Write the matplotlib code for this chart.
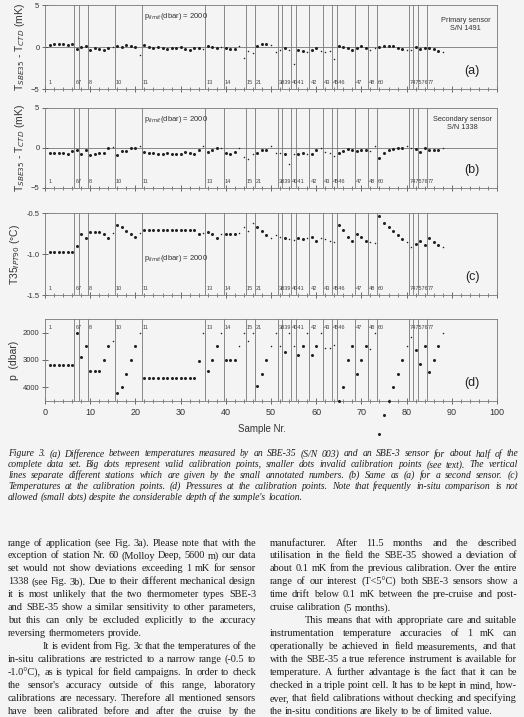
import numpy as np
import matplotlib
matplotlib.use("Agg")
import matplotlib.pyplot as plt

# sample numbers 1..88
sample = np.arange(1, 89)

# valid (big dots) / invalid (small dots) calibration points
invalid = [15, 21, 35, 39, 43, 44, 45, 46, 50, 51, 52, 54, 55, 58, 61, 62, 63, 64,
           72, 73, 80, 81, 88]

# (a) T_SBE35 - T_CTD, primary sensor S/N 1491 (mK)
dT_primary = [0.2, 0.3, 0.3, 0.3, 0.2, 0.4, -0.2, 0.0, 0.1, -0.3,
              -0.1, -0.2, -0.3, -0.1, 0.0, 0.1, 0.0, 0.2, 0.1, 0.0,
              -1.0, 0.2, 0.0, -0.1, 0.0, -0.1, -0.2, -0.1, -0.1, 0.0,
              -0.2, -0.3, -0.1, -0.1, -0.2, 0.1, 0.0, -0.1, 0.0, -0.1,
              -0.2, -0.2, 0.1, -1.3, -0.5, -0.7, 0.1, 0.3, 0.3, 0.2,
              -0.6, -0.3, -0.1, -0.3, -2.0, -0.4, -0.5, -0.6, -0.4, -0.1,
              -0.5, -0.6, -0.5, -1.4, 0.1, 0.0, -0.1, -0.3, -0.1, 0.1,
              -0.1, -0.4, -0.1, 0.0, 0.1, 0.1, 0.1, -0.1, -0.2, -0.4,
              -0.4, 0.0, -0.2, -0.1, -0.1, -0.2, -0.5, -0.6]

# (b) secondary sensor S/N 1338 (mK)
dT_secondary = [-0.6, -0.6, -0.6, -0.6, -0.7, -0.4, -0.3, -0.8, -0.2, -0.9,
                -0.7, -0.6, -0.6, 0.0, 0.1, -0.9, -0.4, -0.4, 0.0, 0.0,
                0.3, -0.5, -0.6, -0.6, -0.7, -0.7, -0.6, -0.7, -0.8, -0.7,
                -0.5, -0.6, -0.8, -0.2, 0.2, -0.5, -0.3, 0.0, 0.0, -0.6,
                -0.7, -0.5, 0.0, -1.1, -1.4, -0.7, -0.6, -0.3, -0.2, 0.2,
                -0.6, -0.6, -0.7, -2.0, -0.7, -0.8, -0.6, -0.7, -0.8, -0.2,
                0.0, -0.5, -0.6, -1.0, -0.6, -0.4, -0.1, -0.2, -0.4, -0.2,
                -0.2, -0.4, 0.3, -1.2, -0.6, -0.3, -0.1, 0.0, 0.0, 0.2,
                0.0, -0.1, -0.5, 0.0, -0.2, -0.2, -0.3, 0.0]

# (c) temperature at calibration points (degC)
temp = [-0.97, -0.97, -0.97, -0.97, -0.97, -0.97, -0.90, -0.76, -0.80, -0.73,
        -0.73, -0.73, -0.76, -0.80, -0.74, -0.65, -0.67, -0.72, -0.76, -0.79,
        -0.74, -0.71, -0.71, -0.71, -0.71, -0.71, -0.71, -0.71, -0.71, -0.71,
        -0.71, -0.71, -0.71, -0.76, -0.74, -0.73, -0.76, -0.80, -0.76, -0.76,
        -0.76, -0.76, -0.74, -0.67, -0.72, -0.62, -0.67, -0.72, -0.77, -0.81,
        -0.77, -0.79, -0.80, -0.82, -0.83, -0.80, -0.82, -0.80, -0.79, -0.84,
        -0.81, -0.82, -0.84, -0.85, -0.65, -0.71, -0.79, -0.84, -0.76, -0.79,
        -0.84, -0.85, -0.86, -0.54, -0.62, -0.67, -0.72, -0.77, -0.82, -0.85,
        -0.91, -0.88, -0.84, -0.89, -0.81, -0.85, -0.89, -0.91]

# (d) pressure at calibration points (dbar)
pres = [3200, 3200, 3200, 3200, 3200, 3200, 2000, 2900, 2500, 3400,
        3400, 3400, 3000, 2500, 2300, 4200, 4000, 3500, 3000, 2500,
        2000, 3650, 3650, 3650, 3650, 3650, 3650, 3650, 3650, 3650,
        3650, 3650, 3650, 3050, 2000, 3400, 3000, 2500, 2000, 3000,
        3000, 3000, 2500, 2000, 2300, 2000, 3950, 3500, 3000, 2500,
        2000, 2500, 2700, 2000, 2500, 2800, 2500, 2000, 2800, 2500,
        2000, 2550, 2550, 2450, 4500, 4000, 3000, 2500, 3500, 3000,
        2500, 2600, 2000, 5700, 5000, 4500, 4000, 3500, 3000, 2500,
        2150, 2650, 3150, 2500, 3450, 3000, 2500, 2000]

# station separators and station numbers
station_lines = [6.5, 7.5, 9.5, 15.5, 21.5, 35.5, 39.5, 44.5, 46.5, 51.5, 52.5,
                 54.5, 55.5, 58.5, 61.5, 63.5, 64.5, 68.5, 71.5, 73.5, 80.5,
                 81.5, 82.5, 84.5]
station_pos = [0.5] + station_lines
station_nr = ['1', '6', '7', '8', '10', '11', '13', '14', '15', '21', '38', '39',
              '40', '41', '42', '43', '45', '46', '47', '48', '60', '74', '75',
              '76', '77']

caption = [
    "Figure 3. (a) Difference between temperatures measured by an SBE-35 (S/N 003) and an SBE-3 sensor for about half of the",
    "complete data set. Big dots represent valid calibration points, smaller dots invalid calibration points (see text). The vertical",
    "lines separate different stations which are given by the small annotated numbers. (b) Same as (a) for a second sensor. (c)",
    "Temperatures at the calibration points. (d) Pressures at the calibration points. Note that frequently in-situ comparison is not",
    "allowed (small dots) despite the considerable depth of the sample's location.",
]
left_col = [
    "range of application (see Fig. 3a). Please note that with the",
    "exception of station Nr. 60 (Molloy Deep, 5600 m) our data",
    "set would not show deviations exceeding 1 mK for sensor",
    "1338 (see Fig. 3b). Due to their different mechanical design",
    "it is most unlikely that the two thermometer types SBE-3",
    "and SBE-35 show a similar sensitivity to other parameters,",
    "but this can only be excluded explicitly to the accuracy",
    "reversing thermometers provide.",
    "\tIt is evident from Fig. 3c that the temperatures of the",
    "in-situ calibrations are restricted to a narrow range (-0.5 to",
    "-1.0°C), as is typical for field campaigns. In order to check",
    "the sensor's accuracy outside of this range, laboratory",
    "calibrations are necessary. Therefore all mentioned sensors",
    "have been calibrated before and after the cruise by the",
]
right_col = [
    "manufacturer. After 11.5 months and the described",
    "utilisation in the field the SBE-35 showed a deviation of",
    "about 0.1 mK from the previous calibration. Over the entire",
    "range of our interest (T<5°C) both SBE-3 sensors show a",
    "time drift below 0.1 mK between the pre-cruise and post-",
    "cruise calibration (5 months).",
    "\tThis means that with appropriate care and suitable",
    "instrumentation temperature accuracies of 1 mK can",
    "operationally be achieved in field measurements, and that",
    "with the SBE-35 a true reference instrument is available for",
    "temperature. A further advantage is the fact that it can be",
    "checked in a triple point cell. It has to be kept in mind, how-",
    "ever, that field calibrations without checking and specifying",
    "the in-situ conditions are likely to be of limited value.",
]

W, H = 524, 717
BG = '#f4f4f4'
INK = '#222222'
plt.rcParams['font.family'] = ['Liberation Sans', 'DejaVu Sans']

fig = plt.figure(figsize=(W / 100, H / 100), dpi=100, facecolor=BG)


def px_axes(left, top, right, bottom):
    return fig.add_axes([left / W, 1 - bottom / H, (right - left) / W, (bottom - top) / H])


sample = np.asarray(sample)
ok = ~np.isin(sample, invalid)

# stations closer than ~1.5 samples share one label, as printed ("3839", "4041")
stn_groups = []
for x, s in zip(station_pos, station_nr):
    if stn_groups and x - stn_groups[-1][2] < 1.5:
        stn_groups[-1][1] += s
        stn_groups[-1][2] = x
    else:
        stn_groups.append([x, s, x])


def panel(ax, y, ylim, yticks, ylabel, tag, stn_y, zero_line=False):
    y = np.asarray(y, dtype=float)
    ax.set_facecolor(BG)
    for x in station_lines:
        ax.axvline(x, color='#777777', lw=0.6, zorder=1)
    if zero_line:
        ax.axhline(0, color='#777777', lw=0.6, zorder=1)
    ax.plot(sample[ok], y[ok], 'o', ms=2.2, color=INK, mec='none', zorder=3, clip_on=False)
    ax.plot(sample[~ok], y[~ok], 'o', ms=1.1, color=INK, mec='none', zorder=3, clip_on=False)
    ax.set_xlim(0, 100)
    ax.set_ylim(*ylim)
    ax.set_yticks(yticks)
    ax.set_xticks(np.arange(0, 101, 10))
    ax.set_xticks(np.arange(0, 101, 2), minor=True)
    ax.tick_params(axis='both', which='major', direction='inout', length=4, width=0.5,
                   labelsize=5.5, colors='#333333', pad=2)
    ax.tick_params(axis='x', which='minor', direction='inout', length=2.5, width=0.5,
                   colors='#555555')
    for s in ax.spines.values():
        s.set_color('#777777')
        s.set_linewidth(0.6)
    ax.set_ylabel(ylabel, fontsize=7.5, color='#333333', labelpad=3)
    for x, s, _ in stn_groups:
        ax.text(x + 0.2, stn_y, s, transform=ax.get_xaxis_transform(),
                fontsize=4.0, color='#444444', va='center', ha='left')
    ax.text(94.5, 0.22, tag, transform=ax.get_xaxis_transform(), fontsize=9,
            color=INK, ha='center', va='center')


axa = px_axes(45, 5, 497, 89)
panel(axa, dT_primary, (-5, 5), [-5, 0, 5], r'T$_{SBE35}$ - T$_{CTD}$ (mK)', '(a)', 0.08, True)
axa.text(21.8, 3.6, r'p$_{limit}$(dbar) = 2000', fontsize=5.5, color='#333333', va='center')
axa.text(93, 2.7, 'Primary sensor\nS/N 1491', fontsize=5.3, color='#333333',
         ha='center', va='center', linespacing=1.2)
axa.set_xticklabels([])

axb = px_axes(45, 108, 497, 188)
panel(axb, dT_secondary, (-5, 5), [-5, 0, 5], r'T$_{SBE35}$ - T$_{CTD}$ (mK)', '(b)', 0.08, True)
axb.text(21.8, 3.6, r'p$_{limit}$(dbar) = 2000', fontsize=5.5, color='#333333', va='center')
axb.text(92.3, 3.1, 'Secondary sensor\nS/N 1338', fontsize=5.3, color='#333333',
         ha='center', va='center', linespacing=1.2)
axb.set_xticklabels([])

axc = px_axes(45, 213, 497, 295)
panel(axc, temp, (-1.5, -0.5), [-1.5, -1.0, -0.5], r'T35$_{IPT90}$ (°C)', '(c)', 0.08)
axc.yaxis.set_major_formatter(matplotlib.ticker.FormatStrFormatter('%.1f'))
axc.text(21.8, -1.05, r'p$_{limit}$(dbar) = 2000', fontsize=5.5, color='#333333', va='center')
axc.set_xticklabels([])

axd = px_axes(45, 319, 497, 401)
panel(axd, pres, (4500, 1500), [2000, 3000, 4000], 'p  (dbar)', '(d)', 0.9)
axd.tick_params(axis='x', labelsize=6.5, pad=3)
fig.text(262 / W, 1 - 429 / H, 'Sample Nr.', fontsize=7, color='#333333', ha='center', va='center')

# text blocks, justified like the printed page
renderer = fig.canvas.get_renderer()


def justify(lines, x0, x1, y0, dy, size, style='normal', last_flush=(), indent=30):
    for i, line in enumerate(lines):
        y = 1 - (y0 + i * dy) / H
        start = x0
        if line.startswith('\t'):
            start += indent
            line = line[1:]
        words = line.split(' ')
        texts = [fig.text(0, y, w, fontsize=size, family='Liberation Serif', style=style,
                          color='#1e1e1e', va='center', ha='left') for w in words]
        widths = [t.get_window_extent(renderer).width for t in texts]
        if i in last_flush or len(words) == 1:
            gap = size * 100 / 72 * 0.25
        else:
            gap = (x1 - start - sum(widths)) / (len(words) - 1)
        x = start
        for t, w in zip(texts, widths):
            t.set_x(x / W)
            x += w + gap


justify(caption, 8, 518, 454, 10.8, 6.9, style='italic', last_flush=(4,))
justify(left_col, 8, 256, 543, 12.95, 7.4, last_flush=(7,), indent=35)
justify(right_col, 270, 517, 543, 12.95, 7.4, last_flush=(5, 13), indent=35)

fig.savefig('out.png', dpi=100, facecolor=BG)
